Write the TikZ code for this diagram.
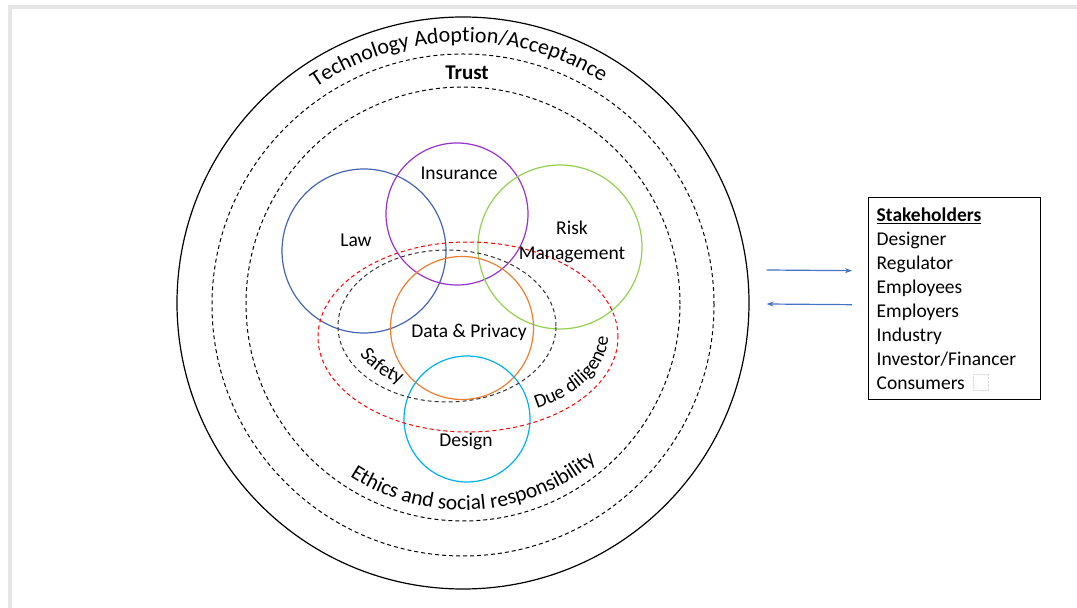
\documentclass[tikz,border=0pt]{standalone}
\usepackage{fontspec}
\setmainfont{Carlito}
\usetikzlibrary{arrows.meta,positioning,calc,shapes.geometric,decorations.text}

\definecolor{lawblue}{RGB}{68,100,180}
\definecolor{insviolet}{RGB}{153,51,204}
\definecolor{riskgreen}{RGB}{146,208,80}
\definecolor{dataorange}{RGB}{237,125,49}
\definecolor{designcyan}{RGB}{0,176,240}
\definecolor{arrowblue}{RGB}{68,114,196}
\definecolor{framegray}{RGB}{230,230,230}

\newcommand{\lblfont}{\fontsize{19.5}{25}\selectfont}
\newcommand{\arcfont}{\fontsize{22}{26}\selectfont}
\newcommand{\bendfont}{\fontsize{20}{24}\selectfont}

\begin{document}
\begin{tikzpicture}[x=1pt,y=1pt,
    ring/.style={circle, draw=#1, line width=1.2pt, inner sep=0pt},
    dashring/.style={circle, draw=black, line width=1pt, dash pattern=on 4pt off 3pt, inner sep=0pt},
    lbl/.style={font=\lblfont, inner sep=0pt},
    flow/.style={draw=arrowblue, line width=1.2pt, -{Stealth[length=7pt,width=5pt]}},
    arctext/.style={decorate, decoration={text along path, text align=center, text={#1}}}
  ]
    \useasboundingbox (0,0) rectangle (1077,608);

    % Page frame
    \fill[framegray] (8,0) rectangle (12,603);
    \fill[framegray] (8,599) rectangle (1077,603);

    % Rings
    \node[ring=black, minimum size=572pt] (outer) at (463,305) {};
    \node[dashring, minimum size=502pt] (trust) at (463,303) {};
    \node[dashring, minimum size=434pt] (ethics) at (463,304) {};

    % Overlapping fields
    \node[ring=lawblue, minimum size=164pt] (law) at (364,357) {};
    \node[ring=insviolet, minimum size=142pt] (ins) at (457,394) {};
    \node[ring=riskgreen, minimum size=164pt] (risk) at (560,361) {};
    \node[ring=dataorange, minimum size=143pt] (data) at (462,280) {};
    \node[ring=designcyan, minimum size=126pt] (design) at (467,189) {};

    % Dashed ellipses
    \node[ellipse, draw=red, line width=1pt, dash pattern=on 4pt off 3pt, inner sep=0pt,
          minimum width=300pt, minimum height=190pt] (due) at (468,271) {};
    \node[ellipse, draw=black!80, line width=1pt, dash pattern=on 4pt off 3pt, inner sep=0pt,
          minimum width=218pt, minimum height=152pt] (safe) at (447,282) {};

    % Straight labels
    \node[lbl] (lawt) at (356,368) {Law};
    \node[lbl] (inst) at (459,435) {Insurance};
    \node[lbl, align=center] (riskt) at (572,366) {Risk\\Management};
    \node[lbl] (datat) at (469,276) {Data \& Privacy};
    \node[lbl] (designt) at (466,167) {Design};
    \node[font=\fontsize{21}{24}\selectfont\bfseries, inner sep=0pt] (trustt) at (467,535) {Trust};

    % Curved labels
    \path[arctext={|\arcfont|Technology Adoption/Acceptance}]
        (463,305) ++(151:261pt) arc[start angle=151, end angle=31, radius=261pt];
    \path[arctext={|\fontsize{21.5}{26}\selectfont|Ethics and social responsibility}]
        (463,304) ++(-148:206pt) arc[start angle=-148, end angle=-25, radius=206pt];
    \path[arctext={|\bendfont|Safety}]
        (447,282) ++(180:97pt and 66pt) arc[start angle=180, end angle=260, x radius=97pt, y radius=66pt];
    \path[arctext={|\fontsize{19.5}{24}\selectfont|Due diligence}]
        (468,271) ++(-74:140pt and 82pt) arc[start angle=-74, end angle=21, x radius=140pt, y radius=82pt];

    % Stakeholders
    \node[draw=black, line width=1.4pt, anchor=north west, inner xsep=8pt, inner ysep=0pt,
          text width=156pt, minimum height=202pt, align=left, font=\fontsize{19.5}{24}\selectfont]
          (stake) at (868,411)
          {\underline{\textbf{Stakeholders}}\\Designer\\Regulator\\Employees\\Employers\\Industry\\Investor/Financer\\Consumers};
    \node[draw=black!15, densely dotted, minimum width=15pt, minimum height=16pt, inner sep=0pt]
          (blank) at (981,226) {};

    % Exchange with stakeholders
    \draw[flow] ([xshift=17pt,yshift=33pt]outer.east) -- ([xshift=-16pt,yshift=28pt]stake.west);
    \draw[flow] ([xshift=-16pt,yshift=-6pt]stake.west) -- ([xshift=17pt,yshift=-1pt]outer.east);
\end{tikzpicture}
\end{document}
